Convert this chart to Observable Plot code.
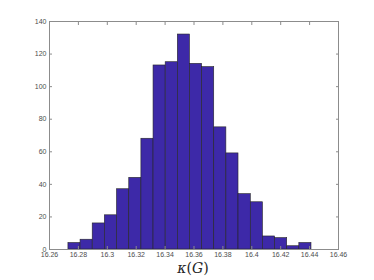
<!DOCTYPE html>
<html><head><meta charset="utf-8">
<script src="https://cdn.jsdelivr.net/npm/d3@7"></script>
<script src="https://cdn.jsdelivr.net/npm/@observablehq/plot@0.6"></script>
<style>body{margin:0;background:#fff;} #chart{position:relative;width:374px;height:280px;}
#xl{position:absolute;left:6px;width:374px;top:261px;line-height:14px;text-align:center;font-family:"DejaVu Serif","Liberation Serif",serif;font-size:14px;color:#262626;}
</style></head><body><div id="chart"></div>
<script>
const binEdges = [16.2731,16.2815,16.2899,16.2983,16.3067,16.3152,16.3236,16.3320,16.3404,16.3488,16.3572,16.3656,16.3740,16.3824,16.3908,16.3993,16.4077,16.4161,16.4245,16.4329,16.4413];
const counts = [4,6,16,21,37,44,68,113,115,132,114,112,75,59,34,29,8,7,2,4];
const xTicks = [16.26,16.28,16.30,16.32,16.34,16.36,16.38,16.40,16.42,16.44,16.46];
const yTicks = [0,20,40,60,80,100,120,140];
const bins = counts.map((c,i)=>({x1:binEdges[i],x2:binEdges[i+1],y:c}));
const fmt = d => String(+d.toFixed(2));
const axisColor = "#8c8c8c";
const plot = Plot.plot({
  width:374,height:280,marginLeft:49,marginRight:36,marginTop:21,marginBottom:31,
  style:{fontFamily:"Liberation Sans, Arial, sans-serif",fontSize:"7px",color:"#4d4d4d",background:"#fff"},
  x:{domain:[16.26,16.46]},
  y:{domain:[0,140]},
  marks:[
    Plot.rectY(bins,{x1:"x1",x2:"x2",y:"y",fill:"#3d29a8",stroke:"#262626",strokeWidth:0.6}),
    Plot.axisX(xTicks,{anchor:"bottom",tickSize:0,tickPadding:3,tickFormat:fmt,fill:"#4d4d4d",label:null}),
    Plot.axisX(xTicks,{anchor:"bottom",tickSize:-3,text:null,stroke:axisColor,label:null}),
    Plot.axisX(xTicks,{anchor:"top",tickSize:-3,text:null,stroke:axisColor,label:null}),
    Plot.axisY(yTicks,{anchor:"left",tickSize:0,tickPadding:3,fill:"#4d4d4d",label:null}),
    Plot.axisY(yTicks,{anchor:"left",tickSize:-3,text:null,stroke:axisColor,label:null}),
    Plot.axisY(yTicks,{anchor:"right",tickSize:-3,text:null,stroke:axisColor,label:null}),
    Plot.frame({stroke:axisColor,strokeWidth:1})
  ]
});
document.getElementById("chart").appendChild(plot);
const xl = document.createElement("div");
xl.id="xl"; xl.innerHTML = "<i>κ</i>(<i>G</i>)";
document.getElementById("chart").appendChild(xl);
</script></body></html>
